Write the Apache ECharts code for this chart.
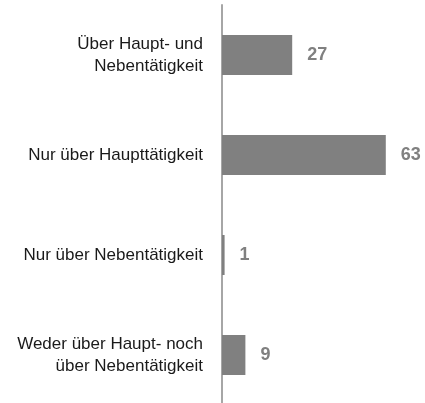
<!DOCTYPE html>
<html>
<head>
<meta charset="utf-8">
<script src="https://cdn.jsdelivr.net/npm/echarts@6/dist/echarts.min.js"></script>
<style>
  html, body { margin: 0; padding: 0; background: #fff; }
  #chart { width: 425px; height: 403px; }
</style>
</head>
<body>
<div id="chart"></div>
<script>
// Daten
const categories = [
  "Über Haupt- und\nNebentätigkeit",
  "Nur über Haupttätigkeit",
  "Nur über Nebentätigkeit",
  "Weder über Haupt- noch\nüber Nebentätigkeit"
];
const values = [27, 63, 1, 9];

const chart = echarts.init(document.getElementById("chart"));
chart.setOption({
  animation: false,
  grid: { left: 222, right: 21, top: 5, bottom: -2, outerBoundsMode: "none" },
  xAxis: {
    type: "value",
    min: 0,
    max: 70,
    show: false
  },
  yAxis: {
    type: "category",
    inverse: true,
    data: categories,
    axisLine: { show: true, lineStyle: { color: "#a6a6a6", width: 2 } },
    axisTick: { show: false },
    axisLabel: {
      margin: 19,
      color: "#1a1a1a",
      fontFamily: "Liberation Sans, Arial, sans-serif",
      fontSize: 17,
      lineHeight: 22,
      align: "right"
    }
  },
  series: [{
    type: "bar",
    data: values,
    barWidth: 40,
    itemStyle: { color: "#808080" },
    label: {
      show: true,
      position: "right",
      distance: 15,
      color: "#808080",
      fontWeight: "bold",
      fontFamily: "Liberation Sans, Arial, sans-serif",
      fontSize: 18
    }
  }]
});
</script>
</body>
</html>
